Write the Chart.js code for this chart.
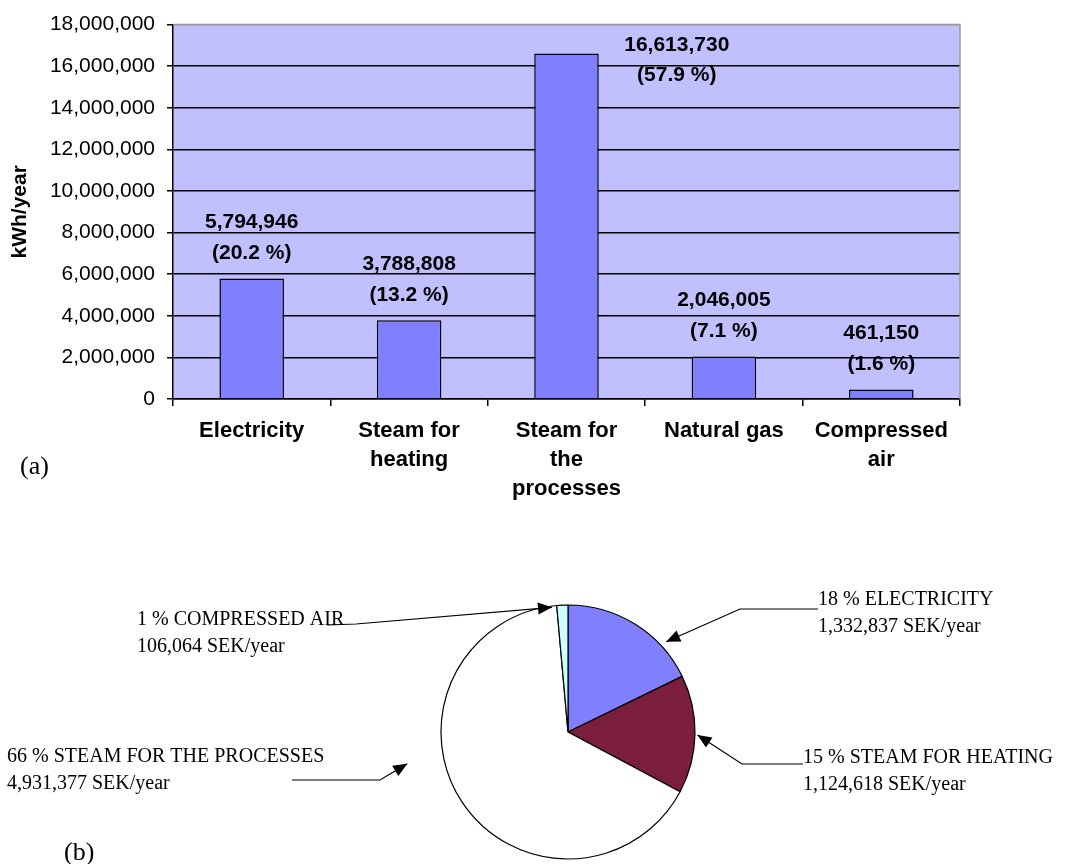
<!DOCTYPE html>
<html>
<head>
<meta charset="utf-8">
<script src="https://cdn.jsdelivr.net/npm/chart.js@4"></script>
<style>
  body { margin: 0; background: #fff; width: 1072px; height: 864px; position: relative; overflow: hidden; }
  canvas { position: absolute; left: 0; }
  #barChart { top: 0; }
  #pieChart { top: 560px; }
  .tag { position: absolute; font: 26px "Liberation Serif", "Times New Roman", serif; line-height: 28px; color: #000; }
</style>
</head>
<body>
<canvas id="barChart" width="1072" height="510"></canvas>
<canvas id="pieChart" width="1072" height="304"></canvas>
<div class="tag" style="left:20px; top:452px;">(a)</div>
<div class="tag" style="left:64px; top:838px;">(b)</div>
<script>
// (a) energy use, kWh/year
const categories = [["Electricity"], ["Steam for", "heating"], ["Steam for", "the", "processes"], ["Natural gas"], ["Compressed", "air"]];
const energyKwh = [5794946, 3788808, 16613730, 2046005, 461150];
const energyShare = [20.2, 13.2, 57.9, 7.1, 1.6];
const yMax = 18000000;
const yStep = 2000000;

// (b) energy cost, SEK/year
const costLabels = ["ELECTRICITY", "STEAM FOR HEATING", "STEAM FOR THE PROCESSES", "COMPRESSED AIR"];
const costSek = [1332837, 1124618, 4931377, 106064];
const costShare = [18, 15, 66, 1];

Chart.defaults.font.family = '"Liberation Sans", Arial, sans-serif';
Chart.defaults.color = "#000";

const fmt = n => n.toLocaleString("en-US");

// lavender plot background + grey frame like the old Excel chart
const plotFrame = {
    id: "plotFrame",
    beforeDraw(chart) {
        const { ctx, chartArea: a } = chart;
        ctx.save();
        ctx.fillStyle = "#C0C0FF";
        ctx.fillRect(a.left, a.top, a.right - a.left, a.bottom - a.top);
        ctx.restore();
    },
    afterDraw(chart) {
        const { ctx, chartArea: a } = chart;
        ctx.save();
        ctx.strokeStyle = "#9a9a9a";
        ctx.lineWidth = 1.5;
        ctx.beginPath();
        ctx.moveTo(a.left, a.top);
        ctx.lineTo(a.right, a.top);
        ctx.lineTo(a.right, a.bottom);
        ctx.stroke();
        ctx.restore();
    }
};

// value + share above each bar (beside it if no room)
const barLabels = {
    id: "barLabels",
    afterDatasetsDraw(chart) {
        const { ctx, chartArea } = chart;
        const meta = chart.getDatasetMeta(0);
        ctx.save();
        ctx.font = 'bold 21px "Liberation Sans", Arial, sans-serif';
        ctx.fillStyle = "#000";
        ctx.textAlign = "center";
        ctx.textBaseline = "middle";
        meta.data.forEach((bar, i) => {
            let x = bar.x, y1 = bar.y - 56, y2 = bar.y - 25;
            if (y1 - 10 < chartArea.top) {
                x = bar.x + bar.width / 2 + 78;
                y1 = bar.y - 8;
                y2 = bar.y + 22;
            }
            ctx.fillText(fmt(energyKwh[i]), x, y1);
            ctx.fillText("(" + energyShare[i].toFixed(1) + " %)", x, y2);
        });
        ctx.restore();
    }
};

new Chart(document.getElementById("barChart"), {
    type: "bar",
    data: {
        labels: categories,
        datasets: [{
            data: energyKwh,
            backgroundColor: "#8080FF",
            borderColor: "#000",
            borderWidth: 1.5,
            categoryPercentage: 1,
            barPercentage: 0.41
        }]
    },
    options: {
        responsive: false,
        animation: false,
        devicePixelRatio: 1,
        layout: { padding: { top: 20, right: 112, left: 0, bottom: 0 } },
        plugins: { legend: { display: false }, tooltip: { enabled: false } },
        scales: {
            x: {
                afterFit: s => { s.height = 111; },
                grid: { offset: true, drawOnChartArea: false, drawTicks: true, tickLength: 7, color: "#000", lineWidth: 1.5 },
                border: { display: true, color: "#000", width: 1.5 },
                ticks: {
                    padding: 10,
                    maxRotation: 0,
                    autoSkip: false,
                    font: { size: 22, weight: "bold", lineHeight: 1.32 },
                    color: "#000"
                }
            },
            y: {
                min: 0,
                max: yMax,
                afterFit: s => { s.width = 173; },
                grid: {
                    color: c => (c.tick && c.tick.value === yMax ? "#9a9a9a" : "#000"),
                    tickColor: "#000",
                    lineWidth: 1.5,
                    tickLength: 6
                },
                border: { display: true, color: "#000", width: 1.5 },
                ticks: {
                    stepSize: yStep,
                    padding: 12,
                    font: { size: 21 },
                    color: "#000",
                    callback: v => fmt(v)
                },
                title: {
                    display: true,
                    text: "kWh/year",
                    font: { size: 21, weight: "bold" },
                    color: "#000",
                    padding: { top: 8, bottom: 0 }
                }
            }
        }
    },
    plugins: [plotFrame, barLabels]
});

// callout text + arrow for each pie slice
const pieNotes = [
    { x: 818, y: 45, path: [[818, 49], [740, 49]], tipAngle: 47.4, tipDist: 1.05 },
    { x: 803, y: 203, path: [[803, 204], [742, 204]], tipAngle: 91.3, tipDist: 1.02 },
    { x: 7, y: 202, path: [[292, 220], [380, 220]], tipAngle: 258.8, tipDist: 1.29 },
    { x: 137, y: 65, path: [[327, 65], [356, 64]], tipAngle: 352.7, tipDist: 0.99 }
];

const pieCallouts = {
    id: "pieCallouts",
    afterDraw(chart) {
        const { ctx } = chart;
        const arc = chart.getDatasetMeta(0).data[0];
        const cx = arc.x, cy = arc.y, r = arc.outerRadius;
        ctx.save();
        ctx.font = '20px "Liberation Serif", "Times New Roman", serif';
        ctx.fillStyle = "#000";
        ctx.strokeStyle = "#000";
        ctx.lineWidth = 1.2;
        ctx.textBaseline = "alphabetic";
        pieNotes.forEach((n, i) => {
            ctx.fillText(costShare[i] + " % " + costLabels[i], n.x, n.y);
            ctx.fillText(fmt(costSek[i]) + " SEK/year", n.x, n.y + 27);

            const a = n.tipAngle * Math.PI / 180;
            const tx = cx + r * n.tipDist * Math.sin(a);
            const ty = cy - r * n.tipDist * Math.cos(a);
            const pts = n.path.concat([[tx, ty]]);
            ctx.beginPath();
            ctx.moveTo(pts[0][0], pts[0][1]);
            for (let k = 1; k < pts.length; k++) ctx.lineTo(pts[k][0], pts[k][1]);
            ctx.stroke();

            const [px, py] = pts[pts.length - 2];
            const ang = Math.atan2(ty - py, tx - px);
            const len = 14, half = 6;
            ctx.beginPath();
            ctx.moveTo(tx, ty);
            ctx.lineTo(tx - len * Math.cos(ang) + half * Math.sin(ang), ty - len * Math.sin(ang) - half * Math.cos(ang));
            ctx.lineTo(tx - len * Math.cos(ang) - half * Math.sin(ang), ty - len * Math.sin(ang) + half * Math.cos(ang));
            ctx.closePath();
            ctx.fill();
        });
        ctx.restore();
    }
};

new Chart(document.getElementById("pieChart"), {
    type: "pie",
    data: {
        labels: costLabels,
        datasets: [{
            data: costSek,
            backgroundColor: ["#8080FF", "#7B1E3C", "#FFFFFF", "#CCFFFF"],
            borderColor: "#000",
            borderWidth: 1.2
        }]
    },
    options: {
        responsive: false,
        animation: false,
        devicePixelRatio: 1,
        radius: 127,
        layout: { padding: { top: 45, bottom: 5, left: 441, right: 377 } },
        plugins: { legend: { display: false }, tooltip: { enabled: false } }
    },
    plugins: [pieCallouts]
});
</script>
</body>
</html>
